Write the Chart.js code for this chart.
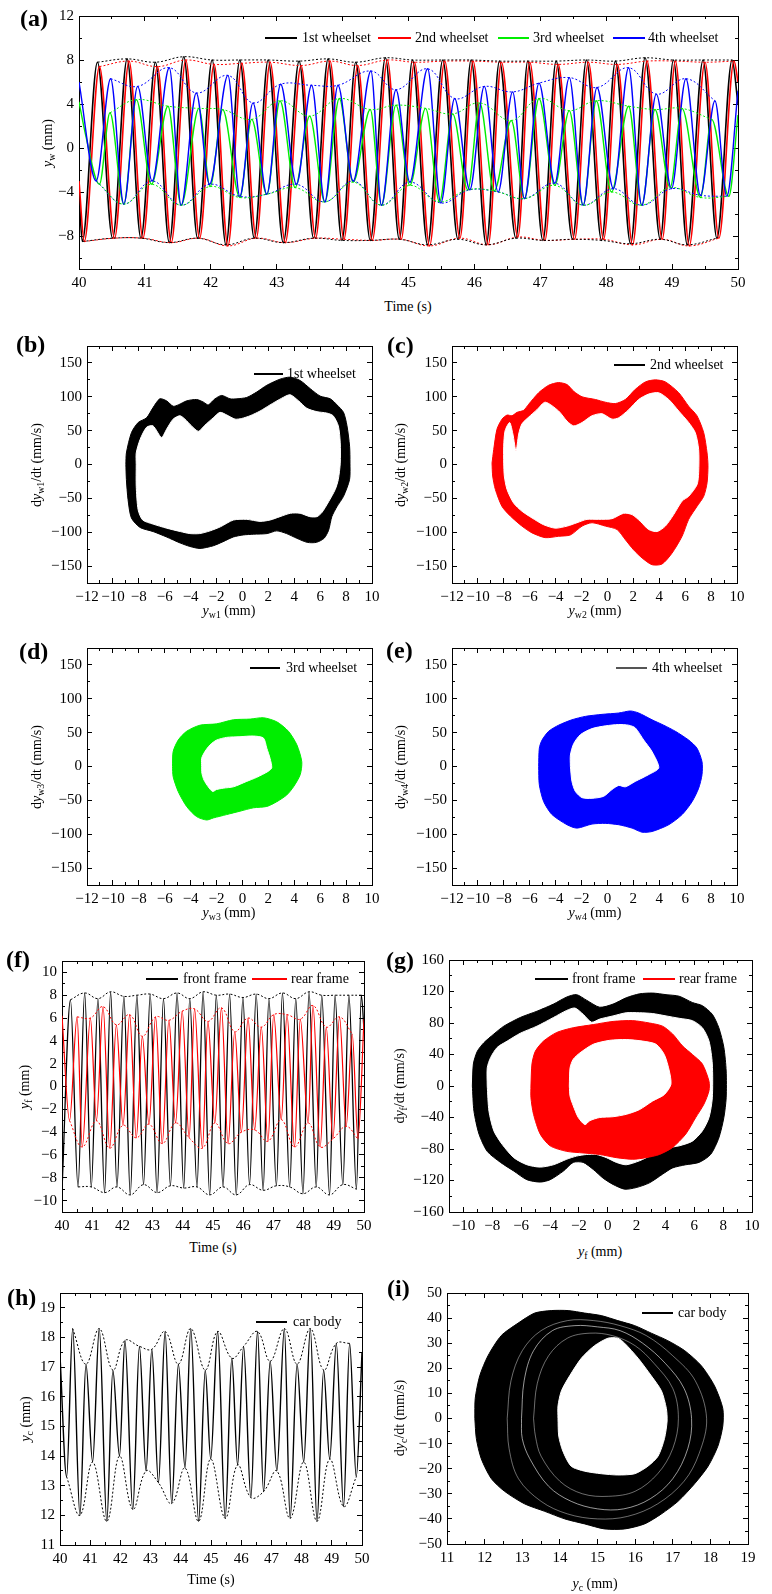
<!DOCTYPE html>
<html>
<head>
<meta charset="utf-8">
<script src="https://cdn.jsdelivr.net/npm/chart.js@4.4.0/dist/chart.umd.min.js"></script>
<style>
body { margin: 0; width: 772px; height: 1594px; position: relative; overflow: hidden; background: #fff;
       font-family: "Liberation Serif", "Times New Roman", serif; color: #000; }
canvas { position: absolute; }
.lab { position: absolute; font-weight: bold; font-size: 24px; transform: translateY(-50%); }
.tx { position: absolute; font-size: 14px; white-space: nowrap; transform: translate(-50%, -50%); }
.ty { position: absolute; font-size: 14px; white-space: nowrap; transform: translate(-50%, -50%) rotate(-90deg); }
.lg { position: absolute; font-size: 14px; white-space: nowrap; transform: translateY(-50%); }
.ln { position: absolute; height: 1.5px; }
sub { font-size: 70%; vertical-align: -0.3em; line-height: 0; }
</style>
</head>
<body>
<script>
// ---- tick labels ----
var timeTicks = [40, 41, 42, 43, 44, 45, 46, 47, 48, 49, 50];
var timeMinor = [40.5, 41.5, 42.5, 43.5, 44.5, 45.5, 46.5, 47.5, 48.5, 49.5];
var ywTicks = [-8, -4, 0, 4, 8, 12];
var ywMinor = [-10, -6, -2, 2, 6, 10];
var phX = [-12, -10, -8, -6, -4, -2, 0, 2, 4, 6, 8, 10];
var phXMinor = [-11, -9, -7, -5, -3, -1, 1, 3, 5, 7, 9];
var phY = [-150, -100, -50, 0, 50, 100, 150];
var phYMinor = [-125, -75, -25, 25, 75, 125];
var yfTicks = [-10, -8, -6, -4, -2, 0, 2, 4, 6, 8, 10];
var yfMinor = [-9, -7, -5, -3, -1, 1, 3, 5, 7, 9];
var gX = [-10, -8, -6, -4, -2, 0, 2, 4, 6, 8, 10];
var gXMinor = [-9, -7, -5, -3, -1, 1, 3, 5, 7, 9];
var gY = [-160, -120, -80, -40, 0, 40, 80, 120, 160];
var gYMinor = [-140, -100, -60, -20, 20, 60, 100, 140];
var ycTicks = [11, 12, 13, 14, 15, 16, 17, 18, 19];
var ycMinor = [11.5, 12.5, 13.5, 14.5, 15.5, 16.5, 17.5, 18.5];
var iX = [11, 12, 13, 14, 15, 16, 17, 18, 19];
var iXMinor = [11.5, 12.5, 13.5, 14.5, 15.5, 16.5, 17.5, 18.5];
var iY = [-50, -40, -30, -20, -10, 0, 10, 20, 30, 40, 50];
var iYMinor = [-45, -35, -25, -15, -5, 5, 15, 25, 35, 45];

// ---- (a) wheelset lateral displacement, extrema ----
var tW1 = [40.00,40.05,40.28,40.51,40.73,40.94,41.16,41.37,41.59,41.80,42.02,42.23,42.44,42.66,42.87,43.10,43.34,43.56,43.78,43.99,44.20,44.42,44.65,44.86,45.06,45.29,45.52,45.75,45.95,46.18,46.38,46.63,46.81,47.04,47.24,47.49,47.70,47.93,48.14,48.37,48.59,48.82,49.02,49.23,49.47,49.68,49.91,50.00];
var yW1 = [-4.0,-8.5,7.8,-8.2,8.1,-8.2,7.8,-8.6,8.3,-8.2,8.0,-8.8,8.0,-8.2,8.0,-8.6,7.9,-8.2,8.1,-8.4,7.8,-8.4,8.2,-8.3,8.0,-8.8,8.0,-8.3,8.0,-8.8,7.9,-8.2,7.9,-8.4,7.9,-8.3,8.0,-8.4,7.9,-8.7,8.2,-8.3,8.0,-8.8,8.0,-8.2,8.0,4.0];
var tW2 = [40.00,40.08,40.31,40.54,40.76,40.97,41.19,41.40,41.62,41.83,42.05,42.26,42.47,42.69,42.90,43.13,43.37,43.59,43.81,44.02,44.23,44.45,44.68,44.89,45.09,45.32,45.55,45.78,45.98,46.21,46.41,46.66,46.84,47.07,47.27,47.52,47.73,47.96,48.17,48.40,48.62,48.85,49.05,49.26,49.50,49.71,49.94,50.00];
var yW2 = [-3.0,-8.5,7.4,-8.2,7.9,-8.2,7.4,-8.6,8.0,-8.2,7.6,-8.9,7.7,-8.2,7.8,-8.6,7.5,-8.2,7.9,-8.3,7.5,-8.4,8.0,-8.3,7.8,-8.9,7.9,-8.2,7.9,-8.8,7.8,-8.1,7.8,-8.4,7.6,-8.3,7.8,-8.3,7.6,-8.8,7.9,-8.3,7.9,-8.9,7.8,-8.2,7.9,6.0];
var tW3 = [40.00,40.10,40.31,40.47,40.68,40.87,41.10,41.35,41.55,41.82,41.99,42.18,42.44,42.62,42.85,43.05,43.28,43.50,43.73,43.95,44.16,44.42,44.59,44.81,45.02,45.26,45.47,45.67,45.90,46.08,46.30,46.56,46.76,46.98,47.22,47.44,47.65,47.85,48.08,48.34,48.54,48.74,48.97,49.15,49.43,49.60,49.86,50.00];
var yW3 = [4.2,1.2,-3.3,3.2,-5.1,4.4,-3.3,3.8,-5.2,3.6,-3.5,3.5,-4.5,2.6,-4.2,4.3,-3.6,2.9,-4.9,4.5,-3.1,3.5,-5.2,3.9,-3.4,3.6,-4.9,3.1,-3.8,4.1,-3.9,2.5,-4.6,4.5,-3.4,3.4,-5.2,4.3,-4.0,3.8,-5.2,3.5,-3.6,3.6,-4.5,2.6,-4.4,3.0];
var tW4 = [40.00,40.26,40.48,40.68,40.89,41.11,41.37,41.55,41.78,41.98,42.26,42.44,42.64,42.85,43.06,43.30,43.53,43.73,43.93,44.16,44.43,44.59,44.81,45.02,45.29,45.49,45.70,45.93,46.15,46.36,46.58,46.76,46.98,47.22,47.44,47.65,47.86,48.11,48.34,48.54,48.76,48.99,49.21,49.43,49.65,49.83,50.00];
var yW4 = [6.0,-3.0,6.3,-5.1,5.6,-3.0,7.3,-5.2,5.0,-3.3,6.6,-4.4,4.1,-4.2,5.8,-3.3,5.7,-4.9,5.7,-3.0,7.0,-5.2,5.3,-3.1,7.2,-5.0,4.5,-3.8,5.6,-4.0,5.1,-4.6,5.9,-3.2,6.4,-5.2,5.5,-3.7,7.3,-5.2,4.9,-3.7,6.3,-4.3,4.3,-4.4,5.2];

// ---- (b)-(e) wheelset phase bands: outer and inner contour ----
var bOutX = [-9.0,-8.96,-8.57,-8.05,-7.4,-6.9,-6.38,-5.86,-5.35,-4.96,-4.3,-3.54,-3.0,-2.64,-2.12,-1.6,-0.96,-0.44,0.33,1.1,1.88,2.9,3.68,4.46,5.23,6.0,6.78,7.3,7.8,8.07,8.27,8.3,8.27,7.8,7.3,6.9,6.65,6.3,5.7,5.0,4.2,3.4,2.65,1.9,0.85,0.07,-0.7,-1.5,-2.25,-3.28,-4.06,-4.8,-5.86,-6.9,-7.9,-8.57,-8.83,-8.96];
var bOutY = [0,17,47,62,69,84,97,94,86,88,94,96,92,88,97,102,97,97,99,107,117,126,129,124,112,101,97,88,77,57,27,2,-22,-47,-62,-77,-97,-109,-115,-115,-109,-102,-98,-102,-103,-104,-107,-114,-120,-124,-121,-116,-107,-99,-93,-79,-52,-22];
var bInX = [-8.2,-8.2,-7.9,-7.4,-6.9,-6.25,-5.86,-5.35,-4.83,-4.44,-3.93,-3.4,-2.9,-2.25,-1.73,-1.2,-0.57,-0.06,0.59,1.36,2.13,3.04,3.68,4.33,4.97,5.75,6.5,7.0,7.4,7.55,7.55,7.4,7.16,6.65,6.13,5.75,5.2,4.45,3.7,2.9,2.13,1.36,0.33,-0.7,-1.7,-2.5,-3.3,-4.06,-4.8,-5.86,-6.9,-7.7,-8.05,-8.2];
var bInY = [0,17,37,55,57,40,52,67,72,67,57,49,58,69,77,73,67,68,72,79,88,98,103,94,83,78,76,72,57,32,2,-22,-37,-55,-71,-77,-77,-72,-72,-77,-82,-84,-81,-82,-92,-98,-102,-102,-99,-94,-88,-82,-67,-32];

var cOutX = [-8.91,-8.78,-8.53,-8.14,-7.75,-7.37,-6.98,-6.47,-6.08,-5.31,-4.54,-3.77,-3.12,-2.6,-1.96,-0.93,-0.16,0.61,1.38,2.15,2.93,3.7,4.47,5.5,6.27,6.91,7.43,7.69,7.76,7.69,7.43,6.91,6.27,5.76,4.98,4.21,3.44,2.67,2.02,1.38,0.74,-0.16,-1.19,-1.96,-2.86,-3.77,-4.8,-5.82,-6.6,-7.5,-8.14,-8.65,-8.86];
var cOutY = [2,22,52,67,73,72,77,80,89,106,117,121,118,108,100,96,92,90,96,111,122,125,122,106,86,72,47,17,-2,-27,-47,-62,-81,-106,-131,-147,-148,-138,-126,-111,-96,-91,-86,-91,-104,-106,-108,-101,-91,-76,-62,-37,-17];
var cInX = [-8.01,-8.01,-7.9,-7.55,-7.3,-7.06,-6.85,-6.6,-6.08,-5.44,-4.8,-3.77,-3.12,-2.6,-1.96,-1.19,-0.42,0.35,0.87,1.64,2.41,3.18,3.95,4.73,5.5,6.27,6.78,7.04,7.04,6.91,6.27,5.76,5.11,4.47,3.83,3.18,2.54,1.9,1.25,0.35,-0.68,-1.58,-2.35,-3.12,-4.02,-4.92,-5.82,-6.6,-7.24,-7.75,-7.96];
var cInY = [2,27,50,62,45,20,45,60,70,81,92,79,64,57,62,72,75,67,69,81,96,104,106,96,79,62,47,22,-12,-30,-47,-54,-74,-91,-99,-96,-84,-74,-72,-80,-81,-81,-86,-91,-94,-89,-79,-69,-57,-37,-17];

var dOutX = [-5.4,-5.35,-4.96,-4.31,-3.28,-2.0,-0.7,0.59,1.62,2.65,3.55,4.2,4.58,4.46,3.94,3.42,2.65,1.88,0.85,-0.19,-1.22,-2.25,-2.77,-3.54,-4.31,-4.96,-5.35];
var dOutY = [0,22,39,52,61,63,69,70,72,66,52,32,7,-12,-30,-42,-52,-59,-61,-66,-71,-76,-79,-74,-59,-37,-15];
var dInX = [-3.15,-3.15,-2.9,-2.5,-2.0,-1.22,-0.19,0.85,1.62,1.88,2.13,2.26,2.0,1.1,0.33,-0.7,-1.48,-2.0,-2.3,-2.64,-2.97,-3.13];
var dInY = [0,12,22,32,39,43,44,45,42,27,12,-2,-7,-16,-22,-30,-32,-34,-37,-30,-20,-10];

var eOutX = [-5.31,-5.26,-5.05,-4.54,-3.77,-2.74,-1.71,-0.42,0.87,1.77,2.41,3.44,4.34,5.24,6.27,6.91,7.3,7.3,7.04,6.53,5.76,4.73,3.44,2.67,1.9,0.87,-0.16,-1.19,-2.35,-3.12,-4.28,-4.92,-5.26];
var eOutY = [0,27,39,52,61,69,74,77,79,82,79,69,61,52,39,27,7,-12,-32,-52,-71,-86,-96,-97,-91,-86,-84,-85,-91,-86,-71,-52,-27];
var eInX = [-2.86,-2.86,-2.6,-2.09,-1.19,-0.16,0.87,1.64,2.15,2.8,3.44,3.96,3.18,2.15,1.38,0.87,0.35,-0.29,-1.19,-1.96,-2.47,-2.74];
var eInY = [0,17,34,47,56,60,62,61,57,39,22,-2,-12,-22,-30,-28,-34,-44,-47,-46,-37,-22];

// ---- (f) bogie frames ----
var tF = [40.00,40.28,40.53,40.75,40.97,41.19,41.41,41.61,41.82,42.05,42.26,42.48,42.70,42.92,43.15,43.36,43.59,43.81,44.03,44.23,44.47,44.67,44.89,45.11,45.33,45.55,45.77,45.99,46.21,46.43,46.66,46.85,47.10,47.30,47.54,47.74,47.98,48.18,48.42,48.60,48.86,49.04,49.30,49.50,49.75,49.91,50.00];
var yF = [-9.1,7.6,-8.8,8.2,-8.8,7.7,-9.3,8.3,-8.8,7.9,-9.5,8.0,-8.6,8.1,-9.3,7.7,-8.7,8.2,-8.9,7.7,-8.8,8.3,-9.5,8.0,-8.8,8.1,-9.5,7.8,-8.6,8.1,-9.1,7.7,-8.7,8.2,-8.8,7.7,-9.4,8.3,-8.8,8.0,-9.5,8.0,-8.6,8.0,-9.0,8.0,5.0];
var tR = [40.00,40.25,40.50,40.67,40.94,41.14,41.36,41.58,41.80,42.02,42.24,42.46,42.66,42.88,43.10,43.32,43.54,43.76,43.98,44.21,44.39,44.65,44.83,45.06,45.28,45.50,45.72,45.94,46.16,46.38,46.60,46.82,47.01,47.26,47.45,47.70,47.89,48.15,48.31,48.55,48.75,48.97,49.19,49.41,49.61,49.80,50.00];
var yR = [6.2,-3.0,6.1,-5.3,6.0,-3.0,7.0,-5.4,5.4,-3.4,6.3,-4.5,4.4,-3.3,6.1,-5.0,5.8,-3.2,6.6,-4.5,6.8,-5.4,5.7,-3.2,6.9,-5.0,4.8,-4.0,6.0,-3.8,5.2,-4.8,6.3,-2.9,6.3,-5.3,5.9,-3.2,7.1,-5.3,5.2,-4.6,6.1,-3.5,4.6,-4.6,5.9];

// ---- (g) frame phase bands ----
var gFOutX = [-9.38,-9.31,-9.04,-8.58,-7.89,-7.2,-6.06,-4.9,-3.76,-2.84,-2.16,-1.47,-0.55,0.37,1.28,2.2,3.12,4.04,4.95,5.87,6.56,7.25,7.7,8.05,8.21,8.21,8.05,7.7,7.13,6.33,5.41,4.5,3.8,2.89,1.97,1.17,0.37,-0.32,-1.0,-1.7,-2.39,-3.07,-3.99,-4.68,-5.6,-6.51,-7.43,-8.35,-8.92,-9.27];
var gFOutY = [0,28,44,55,66,76,87,95,104,113,116,109,100,104,112,117,118,116,114,106,102,91,74,49,19,-15,-40,-66,-87,-97,-100,-104,-112,-123,-129,-131,-125,-117,-106,-97,-97,-108,-119,-122,-119,-108,-97,-83,-61,-32];
var gFInX = [-8.35,-8.35,-8.12,-7.66,-6.97,-6.06,-4.9,-3.76,-2.84,-2.27,-1.7,-1.12,-0.55,0.37,1.28,2.2,3.12,4.04,4.95,5.87,6.56,7.02,7.25,7.25,7.02,6.56,5.87,4.95,4.04,3.12,2.2,1.28,0.6,-0.09,-0.78,-1.47,-2.16,-2.84,-3.76,-4.68,-5.6,-6.51,-7.32,-7.89,-8.23];
var gFInY = [0,23,36,49,57,67,76,87,96,99,91,81,85,89,93,93,92,89,86,83,74,57,28,-15,-40,-57,-70,-76,-79,-87,-95,-100,-97,-91,-87,-87,-89,-93,-100,-103,-100,-91,-74,-57,-32];
var gROutX = [-5.32,-5.25,-5.02,-4.45,-3.53,-2.39,-1.0,0.37,1.74,2.89,3.8,4.5,5.18,5.87,6.56,7.02,7.02,6.67,6.1,5.41,4.5,3.58,2.66,1.74,0.6,-0.55,-1.7,-2.84,-3.99,-4.68,-5.14,-5.32];
var gROutY = [0,28,44,57,68,74,78,82,83,80,76,66,51,40,28,6,-6,-23,-40,-61,-78,-87,-91,-93,-91,-87,-85,-83,-76,-61,-36,-15];
var gRInX = [-2.66,-2.61,-2.39,-1.93,-1.0,0.14,1.28,2.43,3.35,3.92,4.27,4.38,3.92,3.12,2.2,1.28,0.37,-0.55,-1.24,-1.58,-2.04,-2.39,-2.61];
var gRInY = [0,23,34,42,53,58,59,57,53,40,19,2,-11,-19,-30,-36,-39,-40,-44,-49,-40,-25,-13];

// ---- (h) car body ----
var tC = [40.00,40.22,40.42,40.66,40.86,41.08,41.30,41.55,41.75,41.97,42.15,42.41,42.63,42.85,43.04,43.26,43.48,43.70,43.92,44.14,44.33,44.59,44.81,44.99,45.22,45.47,45.69,45.88,46.08,46.32,46.54,46.74,46.96,47.18,47.43,47.62,47.85,48.07,48.29,48.51,48.73,48.93,49.15,49.39,49.59,49.81,50.00];
var yC = [17.4,13.3,18.3,12.0,17.1,13.8,18.3,11.8,16.9,14.0,17.9,12.2,17.7,13.5,17.6,13.1,18.2,12.4,17.1,13.6,18.3,11.8,16.9,13.9,18.2,11.9,17.3,13.7,17.7,12.6,18.2,12.8,17.2,13.5,18.3,11.9,17.1,13.8,18.3,11.8,16.9,13.9,17.8,12.3,17.8,13.3,17.5];

// ---- (i) car body phase band, plus a few visible gaps between orbits ----
var iOutX = [11.74,11.75,11.87,12.09,12.44,12.89,13.33,13.77,14.22,14.66,15.1,15.54,15.99,16.43,16.87,17.32,17.76,18.11,18.33,18.33,18.2,17.94,17.58,17.14,16.7,16.25,15.72,15.19,14.66,14.13,13.6,13.06,12.53,12.18,11.91,11.78];
var iOutY = [0,8,17,25,33,38,42,43,43,42,41,39,37,34,31,27,21,13,4,-3,-11,-19,-26,-33,-38,-42,-44,-44,-42,-40,-37,-34,-29,-24,-16,-8];
var iInX = [13.95,13.95,14.04,14.26,14.57,14.92,15.28,15.54,15.72,16.08,16.43,16.7,16.83,16.85,16.78,16.61,16.34,15.99,15.54,15.1,14.66,14.3,14.08,13.97];
var iInY = [0,5,11,17,24,29,32,32,30,24,17,11,4,-1,-8,-15,-19,-22,-22.5,-22,-21,-19,-13,-7];
var iGap1X = [12.98,13.05,13.3,13.8,14.4,15.0,15.6,16.2,16.8,17.3,17.5,17.4,17.0,16.4,15.7,15.0,14.3,13.7,13.2,13.0];
var iGap1Y = [0,15,27,35,37,36.5,35,30,22,12,0,-12,-24,-32,-36,-36,-33,-27,-16,-8];
var iGap2X = [13.3,13.4,13.7,14.2,14.8,15.4,16.0,16.5,17.0,17.15,17.0,16.6,16.0,15.3,14.6,14.0,13.5,13.35];
var iGap2Y = [0,14,25,32,34,33,29,22,12,0,-12,-22,-29,-31,-30,-25,-15,-7];
var iGap3X = [12.6,12.7,13.0,13.5,14.2,14.9,15.6,16.3,17.0,17.6,17.9,17.7,17.3,16.6,15.8,15.0,14.2,13.5,12.9,12.65];
var iGap3Y = [0,15,27,35,39,39,37,33,25,15,0,-14,-25,-34,-39,-40,-38,-33,-24,-12];

var FONT = '"Liberation Serif", "Times New Roman", serif';

function pts(xs, ys) {
    return xs.map(function (x, i) { return { x: x, y: ys[i] }; });
}
function ring(xs, ys) {
    var p = pts(xs, ys);
    p.push(p[0]);
    return p;
}
// keep only the local maxima (or minima) of a series
function env(xs, ys, up) {
    var out = [];
    for (var i = 1; i < ys.length - 1; i++) {
        var a = ys[i - 1], b = ys[i], c = ys[i + 1];
        if (up ? (b > a && b > c) : (b < a && b < c)) out.push({ x: xs[i], y: b });
    }
    return out;
}

function curve(xs, ys, col, w, ord) {
    return { data: pts(xs, ys), showLine: true, borderColor: col, backgroundColor: col, borderWidth: w,
             pointRadius: 0, pointHoverRadius: 0, cubicInterpolationMode: 'monotone', fill: false, order: ord };
}
function dash(xs, ys, up, col) {
    return { data: env(xs, ys, up), showLine: true, borderColor: col, borderWidth: 1, borderDash: [2, 2],
             pointRadius: 0, pointHoverRadius: 0, tension: 0.4, fill: false, order: 0 };
}
function band(xs, ys, col, ord) {
    return { data: ring(xs, ys), showLine: true, borderColor: col, backgroundColor: col, borderWidth: 1,
             pointRadius: 0, pointHoverRadius: 0, tension: 0.25, fill: 'shape', order: ord };
}
function gap(xs, ys, w) {
    return { data: ring(xs, ys), showLine: true, borderColor: 'rgba(255,255,255,0.85)', borderWidth: w,
             pointRadius: 0, pointHoverRadius: 0, tension: 0.35, fill: false, order: 0 };
}

function fmt(v) {
    return (v < 0 ? '\u2212' : '') + Math.abs(v);
}

function axis(pos, rng, ticks, len, show, size, weight) {
    var horiz = (pos === 'top' || pos === 'bottom');
    return {
        type: 'linear', position: pos, min: rng[0], max: rng[1], weight: weight,
        afterBuildTicks: function (s) { s.ticks = ticks.map(function (v) { return { value: v }; }); },
        afterFit: function (s) {
            if (horiz) s.height = size; else s.width = size;
            s.paddingLeft = 0; s.paddingRight = 0; s.paddingTop = 0; s.paddingBottom = 0;
        },
        grid: { drawOnChartArea: false, drawTicks: true, tickLength: -len, tickColor: '#000', tickWidth: 1 },
        border: { display: true, color: '#000', width: 1 },
        ticks: { display: show, autoSkip: false, maxRotation: 0, minRotation: 0, padding: 10,
                 color: '#000', font: { family: FONT, size: 15 }, callback: function (v) { return fmt(v); } }
    };
}

function mk(area, xr, xMaj, xMin, yr, yMaj, yMin, datasets) {
    var cv = document.createElement('canvas');
    var L = area[0] - 45, T = area[1] - 10;
    var W = area[2] - L + 12, H = area[3] - T + 28;
    cv.width = W; cv.height = H;
    cv.style.left = L + 'px'; cv.style.top = T + 'px';
    cv.style.width = W + 'px'; cv.style.height = H + 'px';
    document.body.appendChild(cv);
    return new Chart(cv, {
        type: 'scatter',
        data: { datasets: datasets },
        options: {
            responsive: false, animation: false, events: [],
            layout: { padding: { left: 0, top: 10, right: 12, bottom: 0 } },
            plugins: { legend: { display: false }, tooltip: { enabled: false } },
            scales: {
                x: axis('bottom', xr, xMaj, 5, true, 28, 1),
                xm: axis('bottom', xr, xMin, 3, false, 0, 0),
                xt: axis('top', xr, xMaj, 5, false, 0, 0),
                xtm: axis('top', xr, xMin, 3, false, 0, 0),
                y: axis('left', yr, yMaj, 5, true, 45, 1),
                ym: axis('left', yr, yMin, 3, false, 0, 0),
                yr: axis('right', yr, yMaj, 5, false, 0, 0),
                yrm: axis('right', yr, yMin, 3, false, 0, 0)
            }
        }
    });
}

function div(cls, html, x, y) {
    var d = document.createElement('div');
    d.className = cls;
    d.innerHTML = html;
    d.style.left = x + 'px';
    d.style.top = y + 'px';
    document.body.appendChild(d);
}
function legend(x1, x2, y, col, text, tx) {
    var l = document.createElement('div');
    l.className = 'ln';
    l.style.left = x1 + 'px'; l.style.top = (y - 0.75) + 'px';
    l.style.width = (x2 - x1) + 'px'; l.style.background = col;
    document.body.appendChild(l);
    div('lg', text, tx, y);
}

var RED = '#ff0000', GREEN = '#00ee00', BLUE = '#0000ff', BLACK = '#000000';

// (a)
mk([79, 16, 738, 269], [40, 50], timeTicks, timeMinor, [-11, 12], ywTicks, ywMinor, [
    dash(tW1, yW1, true, BLACK), dash(tW1, yW1, false, BLACK),
    dash(tW2, yW2, true, RED), dash(tW2, yW2, false, RED),
    dash(tW3, yW3, true, GREEN), dash(tW3, yW3, false, GREEN),
    dash(tW4, yW4, true, BLUE), dash(tW4, yW4, false, BLUE),
    curve(tW4, yW4, BLUE, 1.4, 5), curve(tW3, yW3, GREEN, 1.4, 6),
    curve(tW2, yW2, RED, 1.6, 7), curve(tW1, yW1, BLACK, 1.6, 8)
]);
// (b) - (e)
mk([87, 346, 372, 583], [-12, 10], phX, phXMinor, [-175, 175], phY, phYMinor,
   [band(bInX, bInY, '#ffffff', 0), band(bOutX, bOutY, BLACK, 1)]);
mk([452, 346, 737, 583], [-12, 10], phX, phXMinor, [-175, 175], phY, phYMinor,
   [band(cInX, cInY, '#ffffff', 0), band(cOutX, cOutY, RED, 1)]);
mk([87, 648, 372, 885], [-12, 10], phX, phXMinor, [-175, 175], phY, phYMinor,
   [band(dInX, dInY, '#ffffff', 0), band(dOutX, dOutY, GREEN, 1)]);
mk([452, 648, 737, 885], [-12, 10], phX, phXMinor, [-175, 175], phY, phYMinor,
   [band(eInX, eInY, '#ffffff', 0), band(eOutX, eOutY, BLUE, 1)]);
// (f)
mk([62, 961, 364, 1212], [40, 50], timeTicks, timeMinor, [-11, 11], yfTicks, yfMinor, [
    dash(tF, yF, true, BLACK), dash(tF, yF, false, BLACK),
    dash(tR, yR, true, RED), dash(tR, yR, false, RED),
    curve(tR, yR, RED, 1.2, 5), curve(tF, yF, BLACK, 1.3, 6)
]);
// (g)
mk([449, 960, 752, 1212], [-11, 10], gX, gXMinor, [-160, 160], gY, gYMinor, [
    band(gRInX, gRInY, '#ffffff', 0), band(gROutX, gROutY, RED, 1),
    band(gFInX, gFInY, '#ffffff', 2), band(gFOutX, gFOutY, BLACK, 3)
]);
// (h)
mk([60, 1293, 362, 1545], [40, 50], timeTicks, timeMinor, [11, 19.5], ycTicks, ycMinor, [
    dash(tC, yC, true, BLACK), dash(tC, yC, false, BLACK), curve(tC, yC, BLACK, 1.4, 5)
]);
// (i)
mk([447, 1293, 748, 1544], [11, 19], iX, iXMinor, [-50, 50], iY, iYMinor, [
    gap(iGap1X, iGap1Y, 0.7), gap(iGap2X, iGap2Y, 0.5), gap(iGap3X, iGap3Y, 0.5),
    band(iInX, iInY, '#ffffff', 1), band(iOutX, iOutY, BLACK, 2)
]);

// panel letters
div('lab', '(a)', 20, 18);
div('lab', '(b)', 16, 344);
div('lab', '(c)', 387, 345);
div('lab', '(d)', 19, 651);
div('lab', '(e)', 386, 650);
div('lab', '(f)', 6, 959);
div('lab', '(g)', 386, 960);
div('lab', '(h)', 7, 1297);
div('lab', '(i)', 387, 1288);

// axis titles
div('ty', '<i>y</i><sub>w</sub> (mm)', 48, 143);
div('tx', 'Time (s)', 408, 307);
div('ty', 'd<i>y</i><sub>w1</sub>/dt (mm/s)', 37, 465);
div('tx', '<i>y</i><sub>w1</sub> (mm)', 229, 611);
div('ty', 'd<i>y</i><sub>w2</sub>/dt (mm/s)', 401, 465);
div('tx', '<i>y</i><sub>w2</sub> (mm)', 595, 611);
div('ty', 'd<i>y</i><sub>w3</sub>/dt (mm/s)', 37, 767);
div('tx', '<i>y</i><sub>w3</sub> (mm)', 229, 913);
div('ty', 'd<i>y</i><sub>w4</sub>/dt (mm/s)', 401, 767);
div('tx', '<i>y</i><sub>w4</sub> (mm)', 595, 913);
div('ty', '<i>y</i><sub>f</sub> (mm)', 25, 1087);
div('tx', 'Time (s)', 213, 1248);
div('ty', 'd<i>y</i><sub>f</sub>/dt (mm/s)', 400, 1086);
div('tx', '<i>y</i><sub>f</sub> (mm)', 600, 1252);
div('ty', '<i>y</i><sub>c</sub> (mm)', 26, 1419);
div('tx', 'Time (s)', 211, 1580);
div('ty', 'd<i>y</i><sub>c</sub>/dt (mm/s)', 400, 1418);
div('tx', '<i>y</i><sub>c</sub> (mm)', 595, 1584);

// legends
legend(265, 297, 38, BLACK, '1st wheelset', 302);
legend(378, 411, 38, RED, '2nd wheelset', 415);
legend(498, 529, 38, GREEN, '3rd wheelset', 533);
legend(613, 645, 38, BLUE, '4th wheelset', 648);
legend(254, 283, 374, BLACK, '1st wheelset', 287);
legend(614, 645, 365, BLACK, '2nd wheelset', 650);
legend(250, 280, 668, BLACK, '3rd wheelset', 286);
legend(616, 647, 668, '#555555', '4th wheelset', 652);
legend(146, 178, 979, BLACK, 'front frame', 183);
legend(252, 287, 979, RED, 'rear frame', 291);
legend(535, 568, 979, BLACK, 'front frame', 572);
legend(643, 675, 979, RED, 'rear frame', 679);
legend(256, 287, 1322, BLACK, 'car body', 293);
legend(642, 673, 1313, BLACK, 'car body', 678);
</script>
</body>
</html>
